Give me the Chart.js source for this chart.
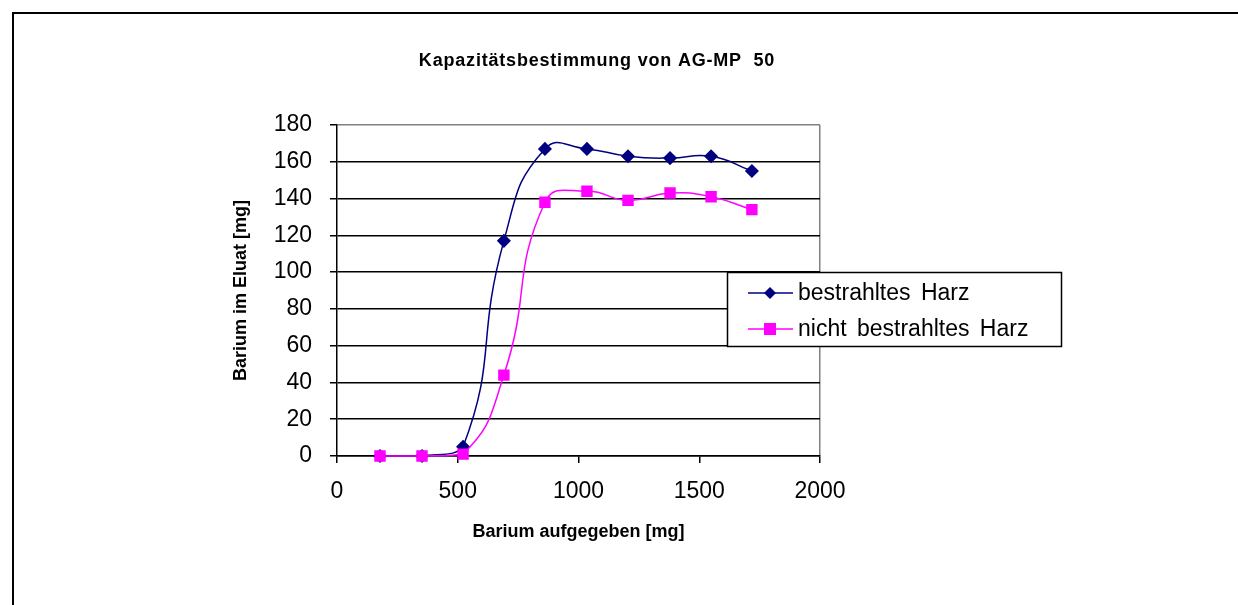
<!DOCTYPE html>
<html>
<head>
<meta charset="utf-8">
<script src="https://cdn.jsdelivr.net/npm/chart.js@4"></script>
<style>
  body { margin: 0; background: #fff; }
  #wrap { position: relative; width: 1238px; height: 605px; overflow: hidden; }
  #frame { position: absolute; left: 12px; top: 12px; width: 1300px; height: 700px; border: 2px solid #000; }
  canvas { position: absolute; left: 0; top: 0; }
</style>
</head>
<body>
<div id="wrap">
  <div id="frame"></div>
  <canvas id="myChart" width="1238" height="605"></canvas>
</div>
<script>
// Barium aufgegeben [mg]
var bariumIn = [178, 352, 522, 691, 861, 1035, 1205, 1379, 1549, 1718];
// Barium im Eluat [mg]
var bestrahlt = [0, 0, 5, 117, 167, 167, 163, 162, 163, 155];
var nichtBestrahlt = [0, 0, 1, 44, 138, 144, 139, 143, 141, 134];
var seriesNames = ['bestrahltes Harz', 'nicht bestrahltes Harz'];
var chartTitle = 'Kapazitätsbestimmung von AG-MP  50';

function toPoints(xs, ys) {
    var pts = [];
    for (var i = 0; i < xs.length; i++) {
        pts.push({x: xs[i], y: ys[i]});
    }
    return pts;
}

var FONT = 'Arial, "Liberation Sans", sans-serif';

// title + legend box drawn by hand, the built-in ones can't sit where Excel put them
var extras = {
    id: 'extras',
    afterDraw: function(chart) {
        var c = chart.ctx;
        c.save();
        c.fillStyle = '#000';
        c.font = 'bold 18px ' + FONT;
        c.letterSpacing = '0.8px';
        c.textAlign = 'center';
        c.textBaseline = 'middle';
        c.fillText(chartTitle, 597, 61);
        c.letterSpacing = '0px';

        // legend
        c.fillStyle = '#fff';
        c.fillRect(727, 272, 334, 74);
        c.strokeStyle = '#000';
        c.lineWidth = 1.5;
        c.strokeRect(727.5, 272.5, 334, 74);
        c.font = '23px ' + FONT;
        c.wordSpacing = '4px';
        c.textAlign = 'left';
        var rows = [293, 329];
        chart.data.datasets.forEach(function(ds, i) {
            var y = rows[i];
            c.strokeStyle = ds.borderColor;
            c.lineWidth = 1.5;
            c.beginPath();
            c.moveTo(748, y);
            c.lineTo(793, y);
            c.stroke();
            c.fillStyle = ds.backgroundColor;
            if (ds.pointStyle === 'rectRot') {
                c.beginPath();
                c.moveTo(770, y - 6);
                c.lineTo(776, y);
                c.lineTo(770, y + 6);
                c.lineTo(764, y);
                c.closePath();
                c.fill();
            } else {
                c.fillRect(764, y - 6, 12, 12);
            }
            c.fillStyle = '#000';
            c.fillText(ds.label, 798, y + 1);
        });
        c.restore();
    }
};

var ctx = document.getElementById('myChart').getContext('2d');
var chart = new Chart(ctx, {
    type: 'line',
    data: {
        datasets: [{
            label: seriesNames[0],
            data: toPoints(bariumIn, bestrahlt),
            borderColor: '#000080',
            backgroundColor: '#000080',
            borderWidth: 1.5,
            pointStyle: 'rectRot',
            pointRadius: 6,
            pointHoverRadius: 6,
            tension: 0.5,
            clip: false,
            order: 1,
            fill: false
        }, {
            label: seriesNames[1],
            data: toPoints(bariumIn, nichtBestrahlt),
            borderColor: '#FF00FF',
            backgroundColor: '#FF00FF',
            borderWidth: 1.5,
            pointStyle: 'rect',
            pointRadius: 7,
            pointHoverRadius: 7,
            tension: 0.5,
            clip: false,
            order: 0,
            fill: false
        }]
    },
    options: {
        responsive: false,
        animation: false,
        layout: {padding: {left: 226, right: 418, top: 125, bottom: 60}},
        plugins: {
            legend: {display: false},
            title: {display: false},
            tooltip: {enabled: false}
        },
        scales: {
            x: {
                type: 'linear',
                min: 0, max: 2000,
                ticks: {stepSize: 500, color: '#000', font: {size: 23, family: FONT}, padding: 15, maxRotation: 0,
                        callback: function(v) { return String(v); }},
                grid: {
                    color: function(c) { return c.tick && c.tick.value === 2000 ? '#808080' : 'rgba(0,0,0,0)'; },
                    tickColor: '#000',
                    tickLength: 7,
                    lineWidth: 1.5
                },
                border: {color: '#000', width: 1.5},
                title: {display: true, text: 'Barium aufgegeben [mg]', color: '#000',
                        font: {size: 18, weight: 'bold', family: FONT}, padding: {top: 0, bottom: 2}},
                afterFit: function(s) { s.height = 89; }
            },
            y: {
                min: 0, max: 180,
                ticks: {stepSize: 20, color: '#000', font: {size: 23, family: FONT}, padding: 18},
                grid: {
                    color: function(c) { return c.tick && c.tick.value === 180 ? '#808080' : '#000'; },
                    tickColor: '#000',
                    tickLength: 7,
                    lineWidth: 1.5
                },
                border: {color: '#000', width: 1.5},
                title: {display: true, text: 'Barium im Eluat [mg]', color: '#000',
                        font: {size: 18, weight: 'bold', family: FONT}, padding: {top: 4, bottom: 0}},
                afterFit: function(s) { s.width = 337 - 226; }
            }
        }
    },
    plugins: [extras]
});
</script>
</body>
</html>
